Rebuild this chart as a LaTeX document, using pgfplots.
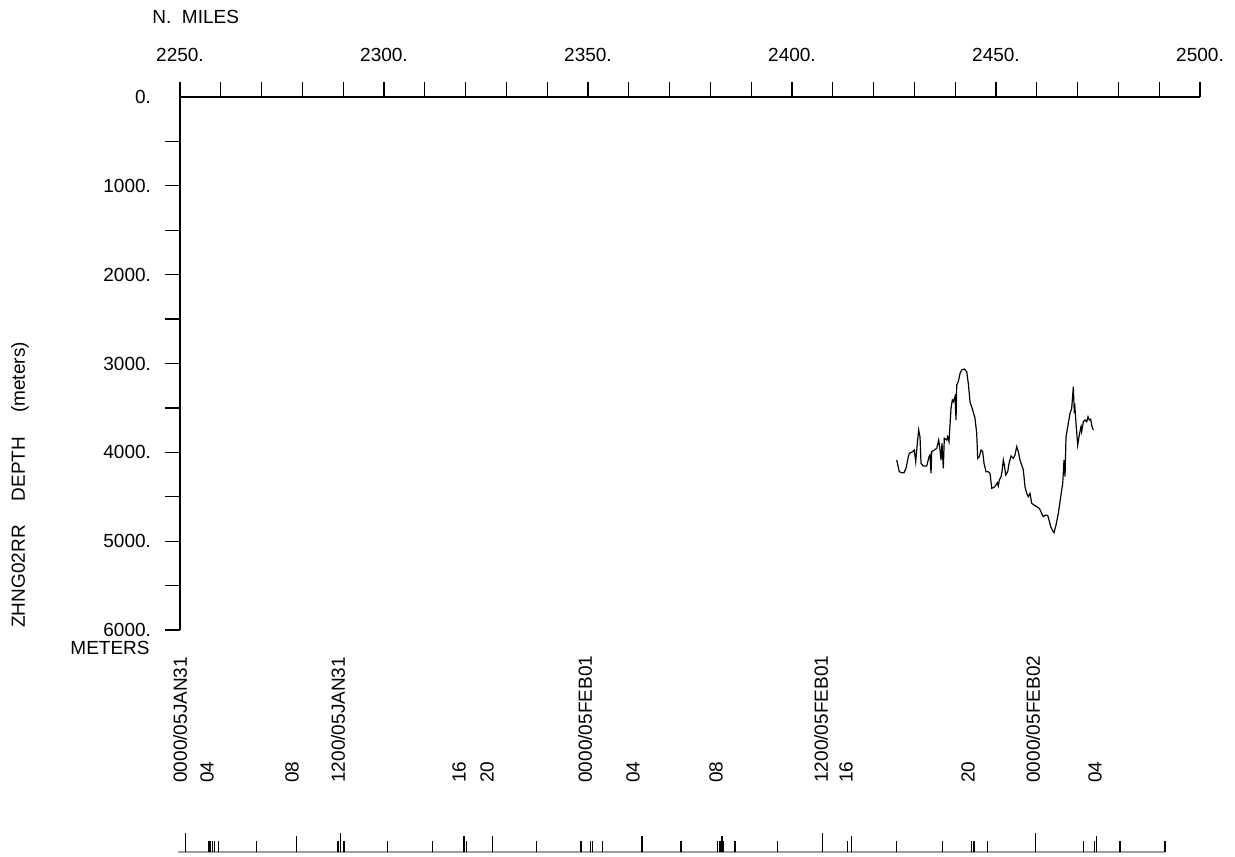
\documentclass[border=0pt]{standalone}
\usepackage{fontspec}
\setmainfont{Liberation Sans}
\usepackage{pgfplots}
\usepackage{pgfplotstable}
\pgfplotsset{compat=1.18}

\pgfplotstableread{
mile depth
2425.66 4086
2426.30 4218
2426.89 4229
2427.45 4229
2427.94 4180
2428.51 4049
2428.75 4011
2429.58 3992
2429.98 3974
2430.32 4105
2430.71 3898
2431.05 3749
2431.37 3824
2431.62 4124
2432.18 4154
2433.01 4154
2433.58 4049
2433.82 4030
2434.07 4237
2434.24 3992
2434.88 3974
2435.47 3955
2435.96 3861
2436.28 3974
2436.52 4086
2436.76 3898
2437.08 4180
2437.33 3842
2437.92 3861
2438.16 3824
2438.48 3880
2438.97 3505
2439.29 3411
2439.53 3430
2439.95 3373
2440.20 3636
2440.37 3242
2440.76 3205
2441.18 3111
2441.59 3073
2442.23 3062
2442.82 3092
2443.21 3223
2443.63 3430
2444.29 3524
2444.85 3617
2445.27 3786
2445.51 4068
2445.91 4049
2446.32 3974
2446.74 3992
2447.06 4124
2447.55 4218
2448.11 4218
2448.53 4237
2448.95 4405
2449.51 4394
2450.00 4368
2450.32 4342
2450.56 4379
2450.81 4312
2451.23 4274
2451.47 4218
2451.79 4086
2452.03 4143
2452.38 4255
2452.87 4218
2453.19 4124
2453.68 4041
2454.24 4068
2454.66 4030
2455.07 3936
2455.47 3992
2455.88 4086
2456.30 4143
2456.69 4199
2457.11 4387
2457.52 4462
2457.92 4499
2458.33 4462
2458.75 4574
2459.31 4593
2459.97 4612
2460.61 4631
2461.20 4687
2461.59 4724
2462.18 4706
2462.67 4712
2462.99 4762
2463.41 4837
2463.80 4875
2464.22 4904
2464.71 4818
2465.27 4687
2465.86 4499
2466.35 4349
2466.67 4086
2466.91 4274
2467.16 3824
2467.72 3674
2468.14 3561
2468.55 3505
2468.95 3261
2469.19 3561
2469.36 3505
2469.61 3674
2470.02 3918
2470.42 3805
2470.83 3711
2471.00 3767
2471.40 3655
2471.81 3636
2472.23 3655
2472.55 3599
2472.87 3636
2473.21 3628
2473.53 3711
2473.85 3749
}\depthdata

\pgfplotstableread{
mile h
2251.40 19
2289.39 19
2407.53 19
2459.73 19
}\talltick

\pgfplotstableread{
mile h
2278.50 16
2319.61 16
2326.64 16
2363.24 16
2382.84 16
2414.53 16
2474.69 16
}\midtick

\pgfplotstableread{
mile h
2257.11 11
2257.52 11
2258.01 11
2258.50 11
2259.39 11
2268.80 11
2288.55 11
2288.90 11
2290.20 11
2300.91 11
2311.94 11
2320.27 11
2337.43 11
2348.28 11
2350.56 11
2351.05 11
2353.60 11
2372.79 11
2381.79 11
2382.18 11
2382.60 11
2383.26 11
2386.03 11
2396.50 11
2413.55 11
2425.56 11
2436.94 11
2444.04 11
2444.61 11
2447.97 11
2471.50 11
2474.10 11
2480.39 11
2491.42 11
}\shorttick

\newcommand{\lf}{\fontsize{9.5}{11}\selectfont}

\begin{document}
\begin{tikzpicture}
\useasboundingbox (0,0) rectangle (617.5pt,-428pt);
\begin{axis}[
  at={(90pt,-48.5pt)}, anchor=north west,
  scale only axis, width=510pt, height=266.5pt,
  xmin=2250, xmax=2500, ymin=0, ymax=6000, y dir=reverse,
  axis line style={draw=none},
  tick align=outside,
  xtick={2250,2300,...,2500},
  xticklabels={2250.,2300.,2350.,2400.,2450.,2500.},
  minor xtick={2260,2270,...,2490},
  xtick pos=right, xticklabel pos=right,
  xticklabel style={yshift=6.5pt},
  ytick={1000,2000,...,6000},
  yticklabels={1000.,2000.,3000.,4000.,5000.,6000.},
  minor ytick={500,1500,...,5500},
  ytick pos=left, yticklabel pos=left,
  yticklabel style={xshift=-3.5pt},
  extra y ticks={0}, extra y tick labels={0.},
  extra y tick style={major tick style={draw=none}},
  major tick length=7.5pt, minor tick length=7.5pt,
  every tick/.style={black, line width=0.6pt},
  tick label style={font=\lf},
  clip=false,
]
\addplot[black, line width=0.6pt] table[x=mile, y=depth] {\depthdata};
\draw[black, line width=0.6pt] (axis cs:2250,6000) -- (axis cs:2250,0) -- (axis cs:2500,0);
\end{axis}

\begin{axis}[
  at={(90pt,-426pt)}, anchor=south west,
  scale only axis, width=510pt, height=10pt,
  xmin=2250, xmax=2500, ymin=0, ymax=20,
  hide axis, clip=false,
]
\addplot[gray!75, line width=1pt] coordinates {(2249.6,0) (2491.42,0)};
\addplot[ycomb, black, line width=0.7pt, mark=none] table[x=mile, y=h] {\talltick};
\addplot[ycomb, black, line width=0.7pt, mark=none] table[x=mile, y=h] {\midtick};
\addplot[ycomb, black, line width=0.7pt, mark=none] table[x=mile, y=h] {\shorttick};
\begin{scope}[every node/.style={rotate=90, anchor=west, inner sep=0pt, font=\lf}]
\node at (axis cs:2250.00,69) {0000/05JAN31};
\node at (axis cs:2256.62,69) {04};
\node at (axis cs:2277.45,69) {08};
\node at (axis cs:2288.73,69) {1200/05JAN31};
\node at (axis cs:2318.38,69) {16};
\node at (axis cs:2325.25,69) {20};
\node at (axis cs:2349.26,69) {0000/05FEB01};
\node at (axis cs:2361.03,69) {04};
\node at (axis cs:2381.37,69) {08};
\node at (axis cs:2407.11,69) {1200/05FEB01};
\node at (axis cs:2413.24,69) {16};
\node at (axis cs:2443.14,69) {20};
\node at (axis cs:2459.07,69) {0000/05FEB02};
\node at (axis cs:2474.26,69) {04};
\end{scope}
\end{axis}

\node[anchor=west, font=\lf, inner sep=0pt] at (76pt,-8.5pt) {N.\ \ MILES};
\node[anchor=east, font=\lf, inner sep=0pt] at (75pt,-324pt) {METERS};
\node[rotate=90, anchor=west, inner sep=0pt, font=\lf] at (10pt,-314pt) {ZHNG02RR\hspace{12pt}DEPTH\hspace{12pt}(meters)};
\end{tikzpicture}
\end{document}
